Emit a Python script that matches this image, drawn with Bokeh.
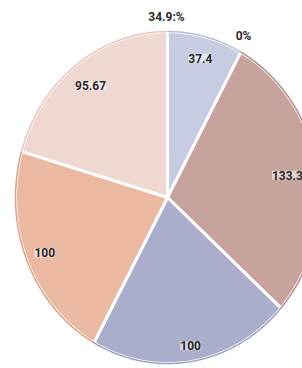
import numpy as np
from bokeh.plotting import figure
from bokeh.models import Range1d, ColumnDataSource, LabelSet, Label
from bokeh.core.properties import value
from bokeh.embed import file_html
from bokeh.resources import INLINE

# ---- data ----
values = [37.4, 133.3, 100, 100, 95.67]
value_labels = ["37.4", "133.3", "100", "100", "95.67"]
colors = ["#c8cce2", "#c8a39e", "#aaaecb", "#ebb9a1", "#f0d8d2"]
edge_colors = ["#b9bdd6", "#b48c89", "#9a9ec0", "#d9a088", "#e6c6c0"]
extra_texts = ["34.9:%", "0%"]

# ---- layout (not data) ----
label_r = [0.866, 0.80, 0.906, 0.874, 0.843]
extra_pos = [(-0.007, 1.09), (0.50, 0.976)]

W, H = 302, 368
p = figure(width=W, height=H, output_backend="svg", toolbar_location=None,
           x_range=Range1d(-1.099, 0.888), y_range=Range1d(-1.030, 1.187),
           min_border=0)
p.axis.visible = False
p.grid.visible = False
p.outline_line_color = None
p.background_fill_color = "white"
p.border_fill_color = "white"

vals = np.array(values, dtype=float)
frac = vals / vals.sum()
ends = np.cumsum(frac) * 2 * np.pi
starts = ends - frac * 2 * np.pi

xs, ys, axs, ays = [], [], [], []
for s, e in zip(starts, ends):
    t = np.linspace(s, e, 120)
    # clockwise from 12 o'clock
    px = np.sin(t)
    py = np.cos(t)
    xs.append(np.concatenate([[0.0], px]).tolist())
    ys.append(np.concatenate([[0.0], py]).tolist())
    axs.append(px.tolist())
    ays.append(py.tolist())

src = ColumnDataSource(dict(xs=xs, ys=ys, color=colors))
p.patches("xs", "ys", source=src, fill_color="color", line_color="white",
          line_width=3)
p.multi_line(axs, ays, line_color=edge_colors, line_width=1.5)

mids = (starts + ends) / 2
lx = np.array(label_r) * np.sin(mids)
ly = np.array(label_r) * np.cos(mids)
lsrc = ColumnDataSource(dict(x=lx, y=ly, text=value_labels))
p.add_layout(LabelSet(x="x", y="y", text="text", source=lsrc,
                      text_align="center", text_baseline="middle",
                      text_font=value("Roboto"), text_font_style="bold",
                      text_font_size="12px", text_color="#2b2b2b",
                      background_fill_color="white", background_fill_alpha=0.5))

for t, (x, y) in zip(extra_texts, extra_pos):
    p.add_layout(Label(x=x, y=y, text=t, text_align="center",
                       text_baseline="middle",
                       text_font="Roboto", text_font_style="bold",
                       text_font_size="12px", text_color="#2b2b2b"))

open("out.html", "w").write(file_html(p, INLINE))
